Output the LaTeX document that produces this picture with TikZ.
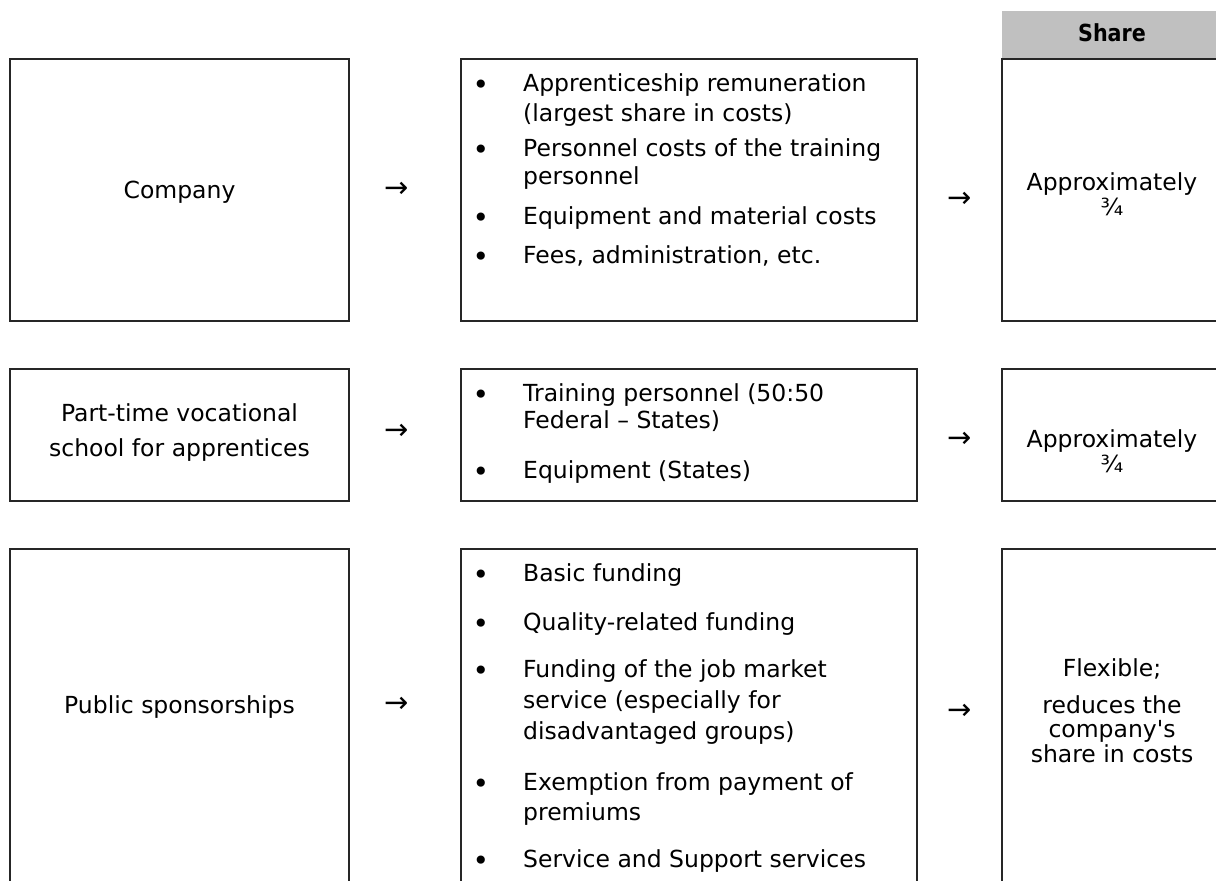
\documentclass[tikz,border=0pt]{standalone}
\usepackage{fontspec}
\setmainfont{DejaVu Sans}[Ligatures=TeXOff]
\definecolor{hdrgray}{HTML}{C0C0C0}
\definecolor{boxline}{HTML}{262626}
\begin{document}
\begin{tikzpicture}[x=1pt,y=-1pt,
  box/.style={draw=boxline, line width=1.8pt, inner sep=0pt},
  txt/.style={inner sep=0pt, font=\fontsize{23.5}{28}\selectfont},
  bl/.style={txt, anchor=base west},
  bu/.style={inner sep=0pt, anchor=base, yshift=-3pt, font=\fontsize{28}{30}\selectfont},
  ctr/.style={txt, anchor=base},
  arr/.style={inner sep=0pt, anchor=center, font=\fontsize{29}{30}\selectfont}]
\useasboundingbox (0,0) rectangle (1216,881);
\clip (0,0) rectangle (1216,881);
\fill[white] (0,0) rectangle (1216,881);
% header
\node[fill=hdrgray, inner sep=0pt, minimum width=220pt, minimum height=47pt] (hdr) at (1112,34.5) {};
\node[ctr] (share) at (1112,41) {\scalebox{0.88}[1]{\bfseries Share}};
% row 1
\node[box, minimum width=339pt, minimum height=262pt] (c1) at (179.5,189.6) {};
\node[box, minimum width=456pt, minimum height=262pt] (m1) at (689,189.6) {};
\node[box, minimum width=220pt, minimum height=262pt] (r1) at (1112,189.6) {};
% row 2
\node[box, minimum width=339pt, minimum height=132pt] (c2) at (179.5,435) {};
\node[box, minimum width=456pt, minimum height=132pt] (m2) at (689,435) {};
\node[box, minimum width=220pt, minimum height=132pt] (r2) at (1112,435) {};
% row 3
\node[box, minimum width=339pt, minimum height=361pt] (c3) at (179.5,729.5) {};
\node[box, minimum width=456pt, minimum height=361pt] (m3) at (689,729.5) {};
\node[box, minimum width=220pt, minimum height=361pt] (r3) at (1112,729.5) {};
% left texts
\node[ctr] (t11) at (179.5,198) {Company};
\node[ctr] (t21) at (179.5,421.5) {Part-time vocational};
\node[ctr] (t22) at (179.5,456.5) {school for apprentices};
\node[ctr] (t31) at (179.5,713) {Public sponsorships};
% arrows
\node[arr] (a11) at (397,190) {→};
\node[arr] (a12) at (960,200) {→};
\node[arr] (a21) at (397,432) {→};
\node[arr] (a22) at (960,440) {→};
\node[arr] (a31) at (397,705) {→};
\node[arr] (a32) at (960,712) {→};
% middle row 1
\node[bu] (b1) at (481,91) {•};
\node[bl] (l1) at (523,91) {Apprenticeship remuneration};
\node[bl] (l2) at (523,121) {(largest share in costs)};
\node[bu] (b2) at (481,156) {•};
\node[bl] (l3) at (523,156) {Personnel costs of the training};
\node[bl] (l4) at (523,184) {personnel};
\node[bu] (b3) at (481,224) {•};
\node[bl] (l5) at (523,224) {Equipment and material costs};
\node[bu] (b4) at (481,263) {•};
\node[bl] (l6) at (523,263) {Fees, administration, etc.};
% middle row 2
\node[bu] (b5) at (481,401) {•};
\node[bl] (l7) at (523,401) {Training personnel (50:50};
\node[bl] (l8) at (523,428) {Federal – States)};
\node[bu] (b6) at (481,478) {•};
\node[bl] (l9) at (523,478) {Equipment (States)};
% middle row 3
\node[bu] (b7) at (481,581) {•};
\node[bl] (l10) at (523,581) {Basic funding};
\node[bu] (b8) at (481,630) {•};
\node[bl] (l11) at (523,630) {Quality-related funding};
\node[bu] (b9) at (481,677) {•};
\node[bl] (l12) at (523,677) {Funding of the job market};
\node[bl] (l13) at (523,708) {service (especially for};
\node[bl] (l14) at (523,739) {disadvantaged groups)};
\node[bu] (b10) at (481,790) {•};
\node[bl] (l15) at (523,790) {Exemption from payment of};
\node[bl] (l16) at (523,820) {premiums};
\node[bu] (b11) at (481,867) {•};
\node[bl] (l17) at (523,867) {Service and Support services};
% right column
\node[ctr] (s11) at (1112,190) {Approximately};
\node[ctr] (s12) at (1112,215) {¾};
\node[ctr] (s21) at (1112,447) {Approximately};
\node[ctr] (s22) at (1112,472) {¾};
\node[ctr] (s31) at (1112,676) {Flexible;};
\node[ctr] (s32) at (1112,713) {reduces the};
\node[ctr] (s33) at (1112,737) {company's};
\node[ctr] (s34) at (1112,762) {share in costs};
\end{tikzpicture}
\end{document}
